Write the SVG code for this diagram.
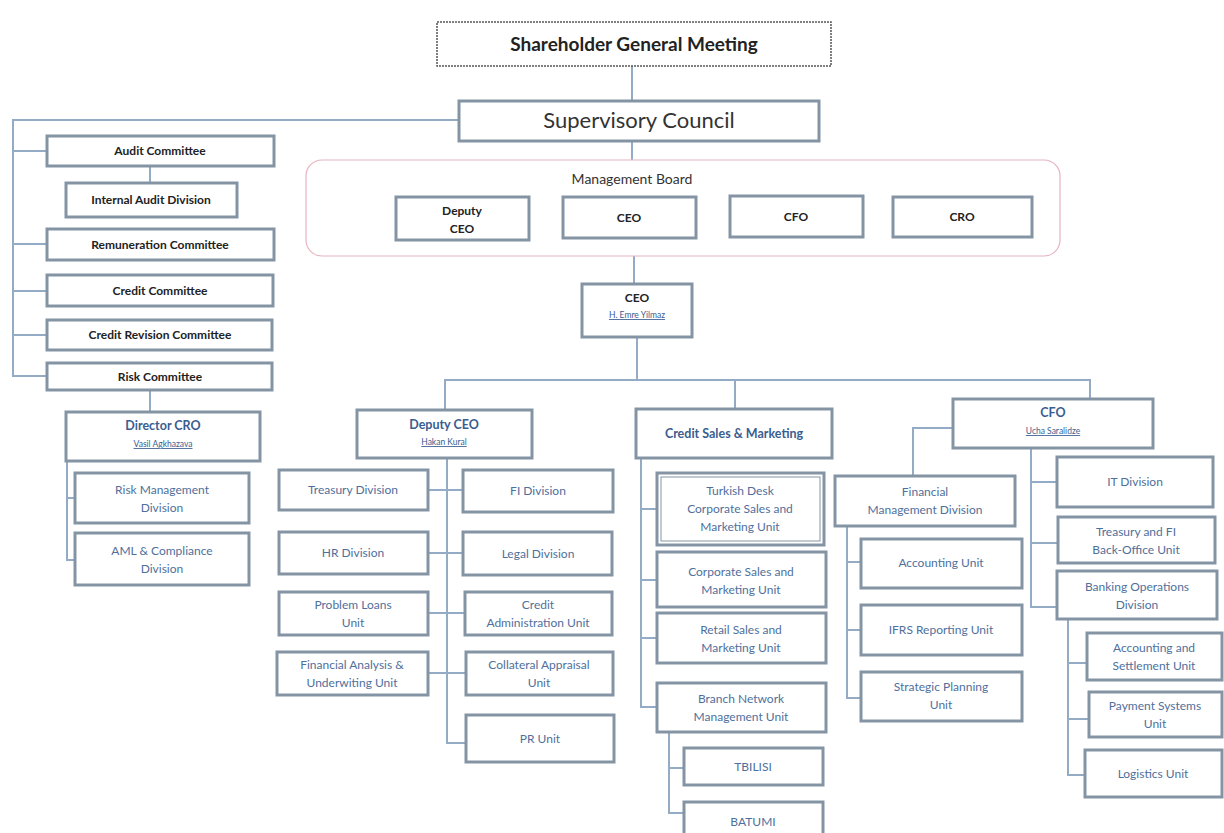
<svg xmlns="http://www.w3.org/2000/svg" width="1224" height="833" viewBox="0 0 1224 833">
<style>
.b{fill:#ffffff;stroke:#8494a4;stroke-width:3}
.k{font-family:Lato,"Liberation Sans",sans-serif;font-size:12px;font-weight:bold;fill:#222;text-anchor:middle}
.u{font-family:Lato,"Liberation Sans",sans-serif;font-size:12px;fill:#4f6f9c;text-anchor:middle}
.t{font-family:Lato,"Liberation Sans",sans-serif;font-size:12.5px;font-weight:bold;fill:#3a5d90;text-anchor:middle}
.n{font-family:Lato,"Liberation Sans",sans-serif;font-size:8.5px;fill:#3a5d90;text-anchor:middle;text-decoration:underline}
.c{fill:none;stroke:#93abc4;stroke-width:2}
</style>
<rect width="1224" height="833" fill="#ffffff"/>
<g id="connectors">
<path class="c" d="M632,66 V101 M632,141 V160 M634,256 V284"/>
<path class="c" d="M459,120 H13 V376 H47 M13,151 H47 M13,244 H47 M13,291 H47 M13,335 H47 M150,166 V183 M150,390 V412 M67,461 V560 H75 M67,498 H75"/>
<path class="c" stroke-width="3" d="M637,337 V380 M445,410 V380 H1090 V399 M735,380 V409"/>
<path class="c" d="M447,458 V743 H466 M428,490 H463 M428,553 H463 M428,613 H465 M428,673 H466"/>
<path class="c" d="M641,458 V707 H657 M641,509 H657 M641,580 H657 M641,638 H657 M669,732 V813 H684 M669,768 H684"/>
<path class="c" d="M953,428 H913 V476 M847,526 V698 H861 M847,562 H861 M847,630 H861"/>
<path class="c" d="M1031,448 V607 H1057 M1031,482 H1057 M1031,543 H1058 M1068,619 V775 H1085 M1068,663 H1087 M1068,719 H1089"/>
</g>
<g id="sgm"><rect x="437" y="22" width="394" height="44" fill="#fff" stroke="#555" stroke-width="1.5" stroke-dasharray="2 1"/><text x="634" y="51" font-family="Lato,'Liberation Sans',sans-serif" font-size="19" font-weight="bold" fill="#222" text-anchor="middle">Shareholder General Meeting</text></g>
<g id="sc"><rect class="b" x="459" y="101" width="360" height="40"/><text x="639" y="128" font-family="Lato,'Liberation Sans',sans-serif" font-size="22" fill="#333" text-anchor="middle">Supervisory Council</text></g>
<g id="mb"><rect x="306" y="160" width="754" height="96" rx="16" fill="none" stroke="#e6b3bf" stroke-width="1.2"/><text x="632" y="184" font-family="Lato,'Liberation Sans',sans-serif" font-size="14" fill="#333" text-anchor="middle">Management Board</text></g>
<g id="mb-dep"><rect class="b" x="396" y="197" width="133" height="43"/><text class="k" x="462" y="215">Deputy</text><text class="k" x="462" y="233">CEO</text></g>
<g id="mb-ceo"><rect class="b" x="563" y="197" width="133" height="41"/><text class="k" x="629" y="222">CEO</text></g>
<g id="mb-cfo"><rect class="b" x="730" y="196" width="133" height="41"/><text class="k" x="796" y="221">CFO</text></g>
<g id="mb-cro"><rect class="b" x="893" y="197" width="139" height="40"/><text class="k" x="962" y="221">CRO</text></g>
<g id="audit"><rect class="b" x="47" y="136" width="227" height="30"/><text class="k" x="160" y="155">Audit Committee</text></g>
<g id="iad"><rect class="b" x="66" y="183" width="171" height="34"/><text class="k" x="151" y="204">Internal Audit Division</text></g>
<g id="rem"><rect class="b" x="47" y="229" width="227" height="31"/><text class="k" x="160" y="249">Remuneration Committee</text></g>
<g id="cc"><rect class="b" x="47" y="275" width="226" height="31"/><text class="k" x="160" y="295">Credit Committee</text></g>
<g id="crc"><rect class="b" x="47" y="320" width="225" height="30"/><text class="k" x="160" y="339">Credit Revision Committee</text></g>
<g id="risk"><rect class="b" x="47" y="363" width="225" height="27"/><text class="k" x="160" y="381">Risk Committee</text></g>
<g id="dcro"><rect class="b" x="66" y="412" width="194" height="49"/><text class="t" x="163" y="430" font-weight="normal">Director CRO</text><text class="n" x="163" y="447">Vasil Agkhazava</text></g>
<g id="rmd"><rect class="b" x="75" y="473" width="174" height="50"/><text class="u" x="162" y="494">Risk Management</text><text class="u" x="162" y="512">Division</text></g>
<g id="aml"><rect class="b" x="75" y="533" width="174" height="52"/><text class="u" x="162" y="555">AML &amp; Compliance</text><text class="u" x="162" y="573">Division</text></g>
<g id="ceo"><rect class="b" x="582" y="284" width="110" height="53"/><text class="k" x="637" y="302" font-size="11">CEO</text><text class="n" x="637" y="318" fill="#333" font-size="7.5">H. Emre Yilmaz</text></g>
<g id="dceo"><rect class="b" x="357" y="410" width="175" height="48"/><text class="t" x="444" y="429">Deputy CEO</text><text class="n" x="444" y="445">Hakan Kural</text></g>
<g id="treas"><rect class="b" x="279" y="470" width="149" height="40"/><text class="u" x="353" y="494">Treasury Division</text></g>
<g id="fi"><rect class="b" x="463" y="470" width="150" height="42"/><text class="u" x="538" y="495">FI Division</text></g>
<g id="hr"><rect class="b" x="279" y="532" width="149" height="42"/><text class="u" x="353" y="557">HR Division</text></g>
<g id="legal"><rect class="b" x="463" y="532" width="149" height="43"/><text class="u" x="538" y="558">Legal Division</text></g>
<g id="pl"><rect class="b" x="279" y="592" width="149" height="43"/><text class="u" x="353" y="609">Problem Loans</text><text class="u" x="353" y="627">Unit</text></g>
<g id="ca"><rect class="b" x="465" y="592" width="147" height="43"/><text class="u" x="538" y="609">Credit</text><text class="u" x="538" y="627">Administration Unit</text></g>
<g id="fa"><rect class="b" x="277" y="652" width="151" height="43"/><text class="u" x="352" y="669">Financial Analysis &amp;</text><text class="u" x="352" y="687">Underwiting Unit</text></g>
<g id="col"><rect class="b" x="466" y="652" width="147" height="43"/><text class="u" x="539" y="669">Collateral Appraisal</text><text class="u" x="539" y="687">Unit</text></g>
<g id="pr"><rect class="b" x="466" y="715" width="148" height="47"/><text class="u" x="540" y="743">PR Unit</text></g>
<g id="csm"><rect class="b" x="636" y="409" width="196" height="49"/><text class="t" x="734" y="438">Credit Sales &amp; Marketing</text></g>
<g id="td"><rect class="b" x="657" y="473" width="167" height="72"/><rect x="661" y="477" width="159" height="64" fill="none" stroke="#8494a4" stroke-width="1"/><text class="u" x="740" y="495">Turkish Desk</text><text class="u" x="740" y="513">Corporate Sales and</text><text class="u" x="740" y="531">Marketing Unit</text></g>
<g id="corp"><rect class="b" x="657" y="552" width="169" height="55"/><text class="u" x="741" y="576">Corporate Sales and</text><text class="u" x="741" y="594">Marketing Unit</text></g>
<g id="retail"><rect class="b" x="657" y="613" width="169" height="50"/><text class="u" x="741" y="634">Retail Sales and</text><text class="u" x="741" y="652">Marketing Unit</text></g>
<g id="branch"><rect class="b" x="657" y="683" width="169" height="49"/><text class="u" x="741" y="703">Branch Network</text><text class="u" x="741" y="721">Management Unit</text></g>
<g id="tbilisi"><rect class="b" x="684" y="748" width="139" height="37"/><text class="u" x="753" y="771" font-size="11">TBILISI</text></g>
<g id="batumi"><rect class="b" x="684" y="802" width="139" height="40"/><text class="u" x="753" y="826" font-size="11">BATUMI</text></g>
<g id="cfo"><rect class="b" x="953" y="399" width="200" height="49"/><text class="t" x="1053" y="417" font-weight="normal">CFO</text><text class="n" x="1053" y="434">Ucha Saralidze</text></g>
<g id="fmd"><rect class="b" x="835" y="476" width="180" height="50"/><text class="u" x="925" y="496">Financial</text><text class="u" x="925" y="514">Management Division</text></g>
<g id="acc"><rect class="b" x="861" y="539" width="161" height="49"/><text class="u" x="941" y="567">Accounting Unit</text></g>
<g id="ifrs"><rect class="b" x="861" y="605" width="161" height="50"/><text class="u" x="941" y="634">IFRS Reporting Unit</text></g>
<g id="sp"><rect class="b" x="861" y="672" width="161" height="49"/><text class="u" x="941" y="691">Strategic Planning</text><text class="u" x="941" y="709">Unit</text></g>
<g id="it"><rect class="b" x="1057" y="457" width="156" height="50"/><text class="u" x="1135" y="486">IT Division</text></g>
<g id="tfbo"><rect class="b" x="1058" y="517" width="157" height="46"/><text class="u" x="1136" y="536">Treasury and FI</text><text class="u" x="1136" y="554">Back-Office Unit</text></g>
<g id="bod"><rect class="b" x="1057" y="571" width="160" height="48"/><text class="u" x="1137" y="591">Banking Operations</text><text class="u" x="1137" y="609">Division</text></g>
<g id="asu"><rect class="b" x="1087" y="633" width="135" height="47"/><text class="u" x="1154" y="652">Accounting and</text><text class="u" x="1154" y="670">Settlement Unit</text></g>
<g id="psu"><rect class="b" x="1089" y="692" width="133" height="45"/><text class="u" x="1155" y="710">Payment Systems</text><text class="u" x="1155" y="728">Unit</text></g>
<g id="log"><rect class="b" x="1085" y="750" width="137" height="47"/><text class="u" x="1153" y="778">Logistics Unit</text></g>
</svg>
